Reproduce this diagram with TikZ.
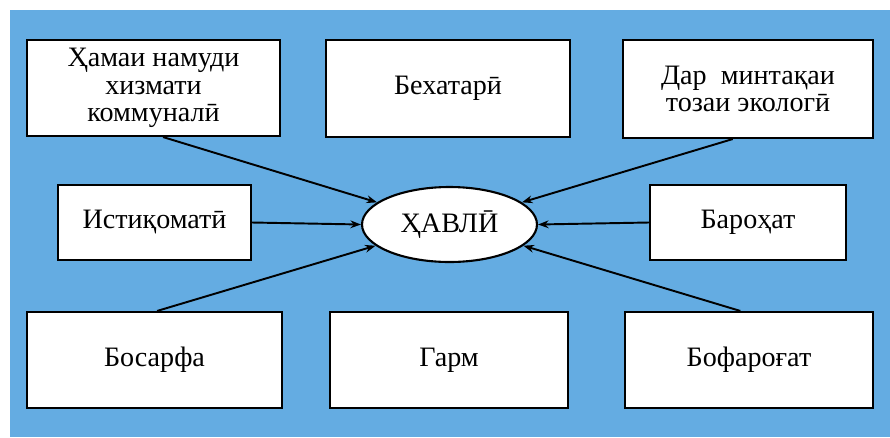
\documentclass[tikz,border=0pt]{standalone}
\usepackage{fontspec}
\setmainfont{Liberation Serif}
\usetikzlibrary{arrows.meta,shapes.geometric}
\usepackage{xcolor}
\definecolor{skyBlue}{RGB}{100,172,226}

\begin{document}
\begin{tikzpicture}[x=0.02cm,y=-0.02cm,
    card/.style={draw,line width=1.2pt,fill=white,align=center,inner sep=2pt,
      font=\fontsize{16}{15.5}\selectfont},
    link/.style={line width=1.1pt,-{Stealth[length=6pt,width=4.4pt]}}]
        % background
        \useasboundingbox (0,0) rectangle (890,437);
        \fill[skyBlue] (10,10) rectangle (890,437);
        % top row
        \node[card,minimum width=5.06cm,minimum height=1.92cm] (komm) at (153.5,88) {Ҳамаи намуди\\хизмати\\коммуналӣ};
        \node[card,minimum width=4.88cm,minimum height=1.94cm] (bexat) at (448,88.5) {Бехатарӣ};
        \node[card,minimum width=5.0cm,minimum height=1.96cm] (ekol) at (748,89) {Дар\ \ минтақаи\\тозаи экологӣ};
        % middle row
        \node[card,minimum width=3.86cm,minimum height=1.5cm] (istiq) at (154.5,222.5) {Истиқоматӣ};
        \node[draw,line width=1.2pt,fill=white,ellipse,inner sep=0pt,
              minimum width=3.5cm,minimum height=1.5cm,font=\fontsize{16}{18}\selectfont] (havli) at (449.5,224.5) {ҲАВЛӢ};
        \node[card,minimum width=3.92cm,minimum height=1.5cm] (barox) at (748,222.5) {Бароҳат};
        % bottom row
        \node[card,minimum width=5.1cm,minimum height=1.92cm] (bosar) at (154.5,360) {Босарфа};
        \node[card,minimum width=4.76cm,minimum height=1.92cm] (garm) at (449,360) {Гарм};
        \node[card,minimum width=4.96cm,minimum height=1.92cm] (bofar) at (749,360) {Бофароғат};
        % arrows
        \draw[link] (komm.-79) -- (havli.163);
        \draw[link] (ekol.-107) -- (havli.17);
        \draw[link] (istiq.east) -- (havli.west);
        \draw[link] (barox.west) -- (havli.east);
        \draw[link] (bosar.87) -- (havli.196);
        \draw[link] (bofar.100) -- (havli.-16);
    \end{tikzpicture}
\end{document}
